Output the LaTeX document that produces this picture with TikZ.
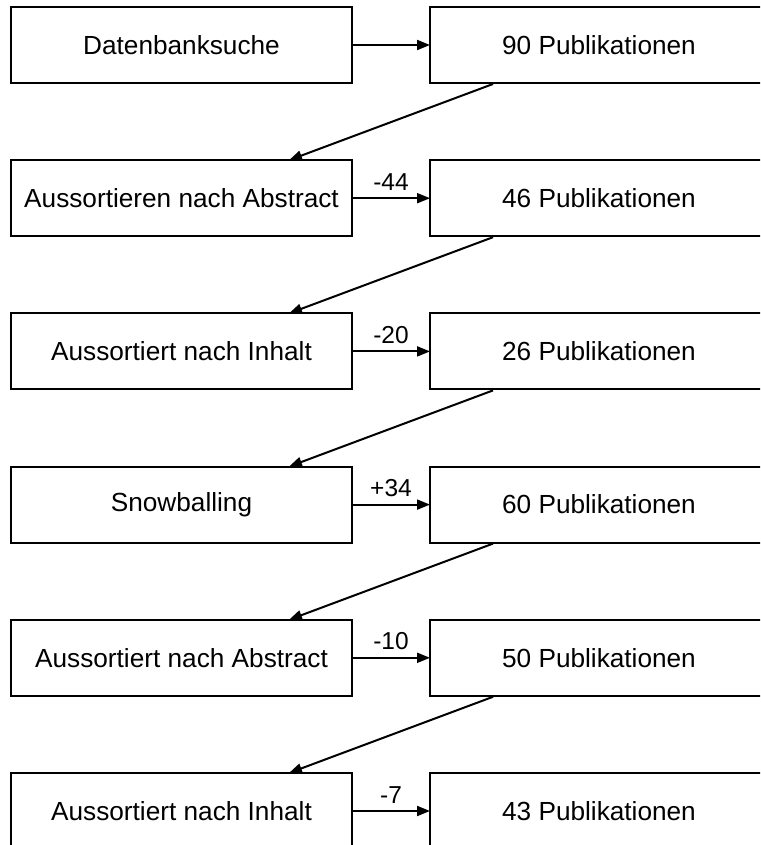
\documentclass[tikz,border=0pt]{standalone}
\usepackage{fontspec}
\setmainfont{Liberation Sans}
\usetikzlibrary{arrows.meta,calc}
\begin{document}
\begin{tikzpicture}[x=1pt,y=-1pt,
  box/.style={draw,line width=2pt,minimum height=76pt,inner sep=0pt,outer sep=0pt,
    anchor=north west,font=\fontsize{26.2}{31}\selectfont},
  leftbox/.style={box,minimum width=341pt},
  rightbox/.style={box,minimum width=338pt},
  link/.style={line width=2pt,-{Triangle[length=13pt,width=10pt]}},
  count/.style={font=\fontsize{24.5}{28}\selectfont,inner sep=0pt,above=7pt,midway}]
\useasboundingbox (0,0) rectangle (760,845);
\clip (0,0) rectangle (760,845);

% process steps (left) and resulting counts (right)
\node[leftbox]  (l1) at (11,7)     {Datenbanksuche};
\node[rightbox] (r1) at (430,7)    {90 Publikationen};
\node[leftbox]  (l2) at (11,160.2) {Aussortieren nach Abstract};
\node[rightbox] (r2) at (430,160.2){46 Publikationen};
\node[leftbox]  (l3) at (11,313.4) {Aussortiert nach Inhalt};
\node[rightbox] (r3) at (430,313.4){26 Publikationen};
\node[leftbox]  (l4) at (11,466.6) {Snowballing};
\node[rightbox] (r4) at (430,466.6){60 Publikationen};
\node[leftbox]  (l5) at (11,619.8) {Aussortiert nach Abstract};
\node[rightbox] (r5) at (430,619.8){50 Publikationen};
\node[leftbox]  (l6) at (11,773)   {Aussortiert nach Inhalt};
\node[rightbox] (r6) at (430,773)  {43 Publikationen};

% step -> count
\draw[link] (l1.east) -- (r1.west);
\draw[link] (l2.east) -- node[count] {-44} (r2.west);
\draw[link] (l3.east) -- node[count] {-20} (r3.west);
\draw[link] (l4.east) -- node[count] {+34} (r4.west);
\draw[link] (l5.east) -- node[count] {-10} (r5.west);
\draw[link] (l6.east) -- node[count] {-7}  (r6.west);

% count -> next step
\foreach \a/\b in {r1/l2,r2/l3,r3/l4,r4/l5,r5/l6}
  \draw[link] ($(\a.south west)+(63,1)$) -- ($(\b.north west)+(278,0)$);
\end{tikzpicture}
\end{document}
